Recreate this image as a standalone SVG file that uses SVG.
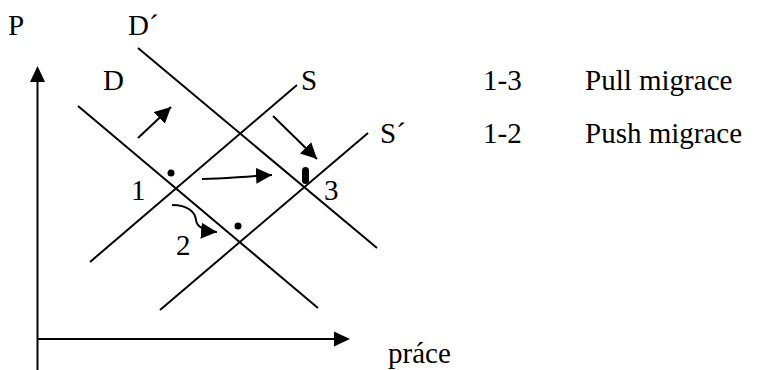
<svg xmlns="http://www.w3.org/2000/svg" width="758" height="370" viewBox="0 0 758 370">
<defs>
<style>
text{font-family:'Liberation Serif','DejaVu Serif',serif;font-size:29px;fill:#000}
.l{stroke:#000;stroke-width:2;fill:none}
</style>
<marker id="ah" viewBox="0 0 10 10" refX="10" refY="5" markerWidth="16" markerHeight="16" markerUnits="userSpaceOnUse" orient="auto"><path d="M0,0 L10,5 L0,10 z" fill="#000"/></marker>
</defs>
<rect width="758" height="370" fill="#fff"/>
<g id="axes">
<line class="l" x1="37.5" y1="370" x2="37.5" y2="80"/>
<path d="M37.5,66 L30,82 L45,82 z" fill="#000"/>
<line class="l" x1="37" y1="339" x2="336" y2="339"/>
<path d="M350,339 L334,331.5 L334,346.5 z" fill="#000"/>
<text x="8" y="35">P</text>
<text x="388" y="363">práce</text>
</g>
<g id="curves">
<line id="D" class="l" x1="78" y1="106" x2="318" y2="308"/>
<line id="Dp" class="l" x1="138" y1="48" x2="377" y2="248"/>
<line id="S" class="l" x1="297" y1="85" x2="90" y2="262"/>
<line id="Sp" class="l" x1="368" y1="133" x2="160" y2="310"/>
<text x="103" y="90">D</text>
<text x="128" y="35">D´</text>
<text x="301" y="90">S</text>
<text x="380" y="143">S´</text>
</g>
<g id="points">
<circle cx="171" cy="173" r="3.5"/>
<circle cx="238" cy="226" r="3.5"/>
<rect x="302" y="167" width="7" height="17" rx="3.5"/>
<text x="131" y="200">1</text>
<text x="176" y="255">2</text>
<text x="324" y="200">3</text>
</g>
<g id="connectors">
<line class="l" x1="138" y1="138" x2="171" y2="107" marker-end="url(#ah)"/>
<line class="l" x1="273" y1="116" x2="317" y2="159" marker-end="url(#ah)"/>
<path class="l" d="M202,179 C225,179 235,177 272,175" marker-end="url(#ah)"/>
<path class="l" d="M172,205 C188,205 195,212 196,220 C197,228 205,231 217,232" marker-end="url(#ah)"/>
</g>
<g id="legend">
<text x="483" y="90">1-3</text>
<text x="585" y="90">Pull migrace</text>
<text x="483" y="143">1-2</text>
<text x="585" y="143">Push migrace</text>
</g>
</svg>
